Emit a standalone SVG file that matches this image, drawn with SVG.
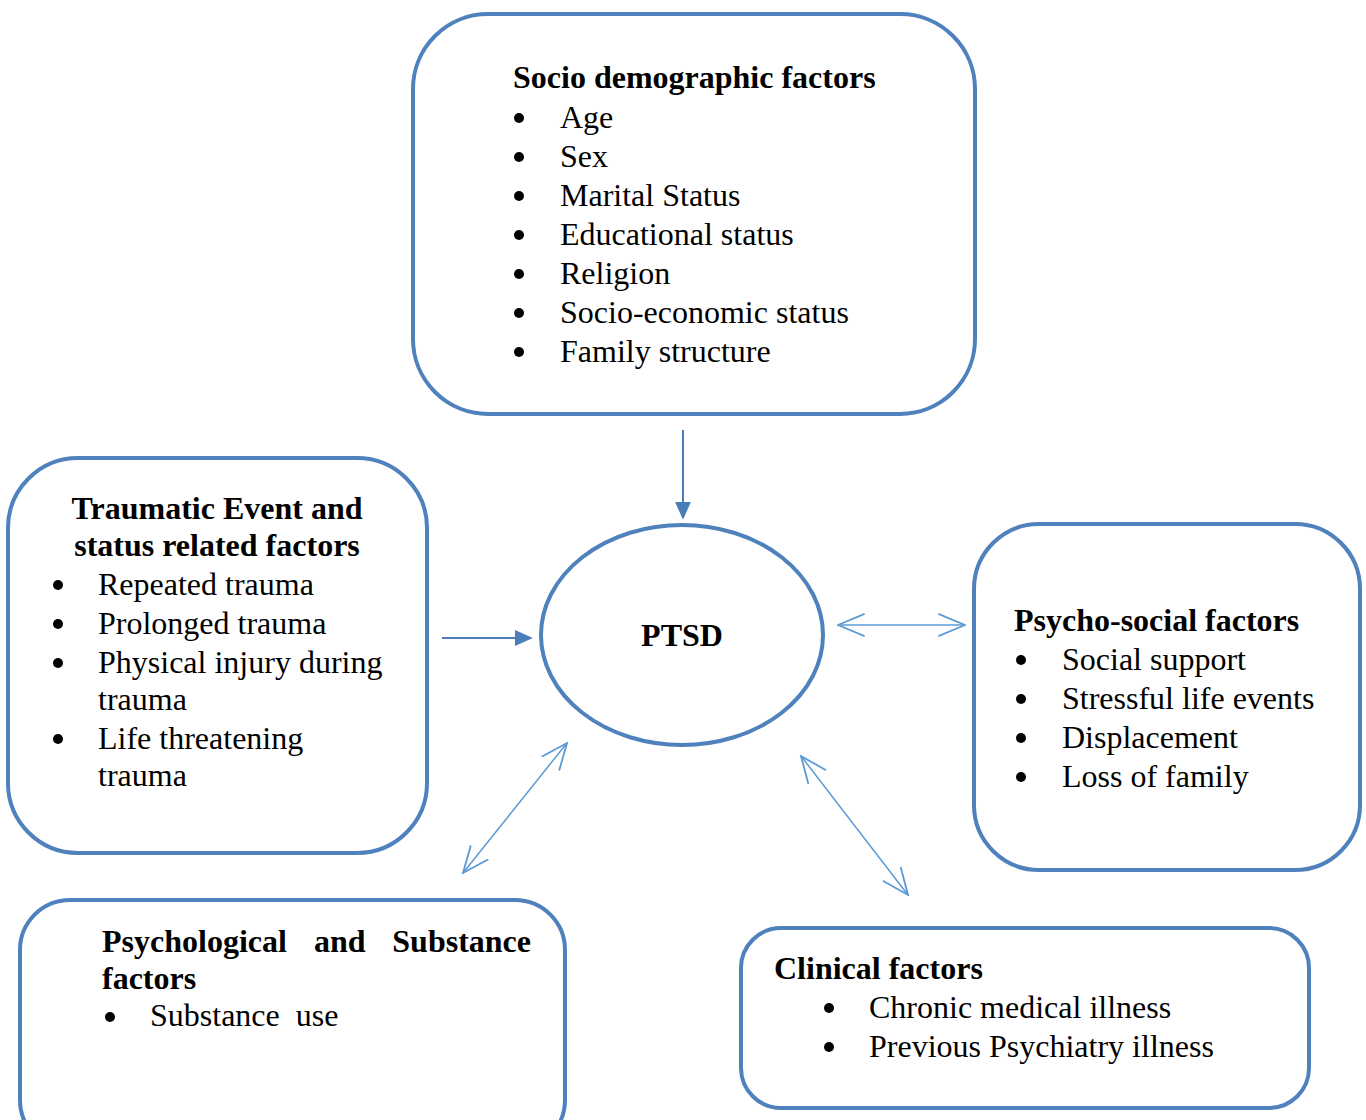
<svg xmlns="http://www.w3.org/2000/svg" width="1366" height="1120" viewBox="0 0 1366 1120">
<style>
.box{fill:#fff;stroke:#4F81BD;stroke-width:4}
.t{font-family:"Liberation Serif","Times New Roman",serif;font-size:32px;fill:#000}
.b{font-weight:bold}
.dot{fill:#000}
.c1{stroke:#4A7EBB;stroke-width:2;fill:none}
.c2{stroke:#5B9BD5;stroke-width:1.5;fill:none}
</style>
<defs>
<marker id="fa" viewBox="0 0 10 10" refX="9" refY="5" markerWidth="18" markerHeight="16" orient="auto" markerUnits="userSpaceOnUse" preserveAspectRatio="none">
<path d="M0,0 L10,5 L0,10 z" fill="#4A7EBB"/>
</marker>
<marker id="oa" viewBox="0 0 20 20" refX="19" refY="10" markerWidth="28" markerHeight="28" orient="auto-start-reverse" markerUnits="userSpaceOnUse">
<path d="M0,2 L19,10 L0,18" fill="none" stroke="#5B9BD5" stroke-width="1.3"/>
</marker>
</defs>
<rect width="1366" height="1120" fill="#fff"/>
<g id="connectors">
<line class="c1" x1="683" y1="430" x2="683" y2="518" marker-end="url(#fa)"/>
<line class="c1" x1="442" y1="638" x2="531" y2="638" marker-end="url(#fa)"/>
<line class="c2" x1="838" y1="625" x2="965" y2="625" marker-start="url(#oa)" marker-end="url(#oa)"/>
<line class="c2" x1="463" y1="873" x2="567" y2="743" marker-start="url(#oa)" marker-end="url(#oa)"/>
<line class="c2" x1="801" y1="756" x2="908" y2="895" marker-start="url(#oa)" marker-end="url(#oa)"/>
</g>
<g id="socio">
<rect class="box" x="413" y="14" width="562" height="400" rx="75"/>
<text class="t b" x="513" y="88">Socio demographic factors</text>
<circle class="dot" cx="519" cy="118" r="5"/><text class="t" x="560" y="128">Age</text>
<circle class="dot" cx="519" cy="157" r="5"/><text class="t" x="560" y="167">Sex</text>
<circle class="dot" cx="519" cy="196" r="5"/><text class="t" x="560" y="206">Marital Status</text>
<circle class="dot" cx="519" cy="235" r="5"/><text class="t" x="560" y="245">Educational status</text>
<circle class="dot" cx="519" cy="274" r="5"/><text class="t" x="560" y="284">Religion</text>
<circle class="dot" cx="519" cy="313" r="5"/><text class="t" x="560" y="323">Socio-economic status</text>
<circle class="dot" cx="519" cy="352" r="5"/><text class="t" x="560" y="362">Family structure</text>
</g>
<g id="traumatic">
<rect class="box" x="8" y="458" width="419" height="395" rx="70"/>
<text class="t b" x="217" y="519" text-anchor="middle">Traumatic Event and</text>
<text class="t b" x="217" y="556" text-anchor="middle">status related factors</text>
<circle class="dot" cx="58" cy="585" r="5"/><text class="t" x="98" y="595">Repeated trauma</text>
<circle class="dot" cx="58" cy="624" r="5"/><text class="t" x="98" y="634">Prolonged trauma</text>
<circle class="dot" cx="58" cy="663" r="5"/><text class="t" x="98" y="673">Physical injury during</text>
<text class="t" x="98" y="710">trauma</text>
<circle class="dot" cx="58" cy="739" r="5"/><text class="t" x="98" y="749">Life threatening</text>
<text class="t" x="98" y="786">trauma</text>
</g>
<g id="ptsd">
<ellipse class="box" cx="682" cy="635" rx="141" ry="110"/>
<text class="t b" x="682" y="646" text-anchor="middle">PTSD</text>
</g>
<g id="psychosocial">
<rect class="box" x="974" y="524" width="386" height="346" rx="65"/>
<text class="t b" x="1014" y="631">Psycho-social factors</text>
<circle class="dot" cx="1021" cy="660" r="5"/><text class="t" x="1062" y="670">Social support</text>
<circle class="dot" cx="1021" cy="699" r="5"/><text class="t" x="1062" y="709">Stressful life events</text>
<circle class="dot" cx="1021" cy="738" r="5"/><text class="t" x="1062" y="748">Displacement</text>
<circle class="dot" cx="1021" cy="777" r="5"/><text class="t" x="1062" y="787">Loss of family</text>
</g>
<g id="psychological">
<rect class="box" x="20" y="900" width="545" height="250" rx="50"/>
<text class="t b" x="102" y="952">Psychological</text>
<text class="t b" x="314" y="952">and</text>
<text class="t b" x="531" y="952" text-anchor="end">Substance</text>
<text class="t b" x="102" y="989">factors</text>
<circle class="dot" cx="110" cy="1017" r="5"/><text class="t" x="150" y="1026" xml:space="preserve">Substance  use</text>
</g>
<g id="clinical">
<rect class="box" x="741" y="928" width="568" height="180" rx="40"/>
<text class="t b" x="774" y="979">Clinical factors</text>
<circle class="dot" cx="829" cy="1008" r="5"/><text class="t" x="869" y="1018">Chronic medical illness</text>
<circle class="dot" cx="829" cy="1047" r="5"/><text class="t" x="869" y="1057">Previous Psychiatry illness</text>
</g>
</svg>
